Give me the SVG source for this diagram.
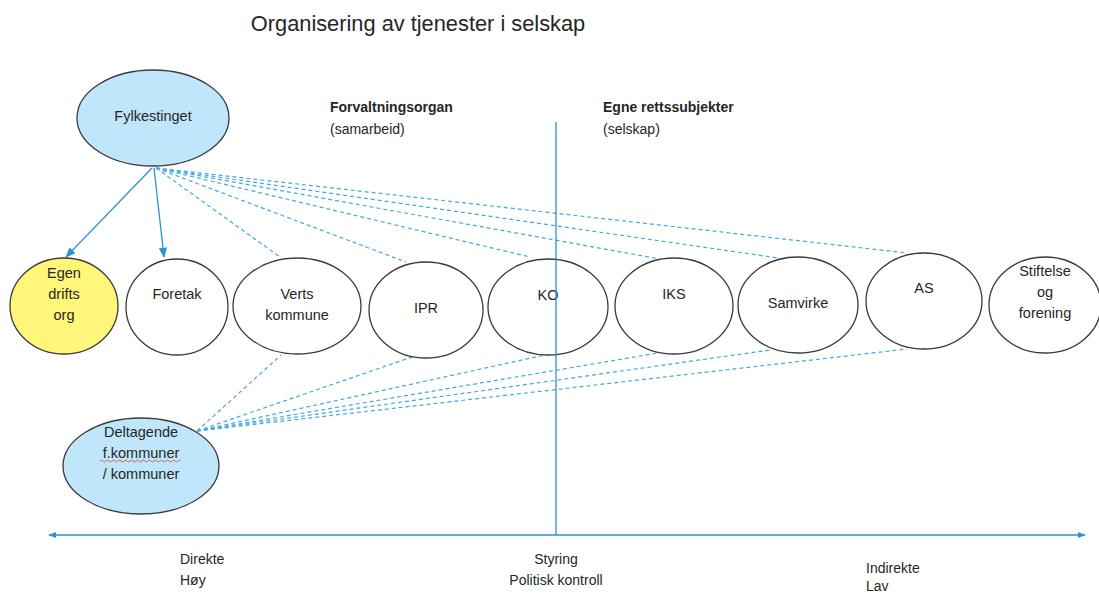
<svg xmlns="http://www.w3.org/2000/svg" width="1099" height="594" viewBox="0 0 1099 594">
<style>
text{font-family:"Liberation Sans",Arial,sans-serif;fill:#262626;}
.t{font-size:14.5px;text-anchor:middle;}
.h{font-size:14px;}
.b{font-weight:bold;}
.node{stroke:#3a3a3a;stroke-width:1.3;fill:#fff;}
.blue{fill:#bfe6fa;}
.yel{fill:#fff67a;}
.dash{stroke:#45a8df;stroke-width:1.2;stroke-dasharray:4 3;fill:none;}
.solid{stroke:#2a93d5;stroke-width:1.3;fill:none;}
.axis{stroke:#2a93d5;stroke-width:1.3;fill:none;}
</style>
<defs>
<marker id="arr" viewBox="0 0 10 10" refX="9" refY="5" markerWidth="8" markerHeight="8" orient="auto">
<path d="M0,1 L10,5 L0,9 z" fill="#2a93d5"/>
</marker>
<marker id="ax" viewBox="0 0 10 10" refX="9" refY="5" markerWidth="6" markerHeight="6" orient="auto-start-reverse">
<path d="M0,1 L10,5 L0,9 z" fill="#2a93d5"/>
</marker>
</defs>
<rect width="1099" height="594" fill="#fff"/>
<text x="418" y="31" style="font-size:21.8px;text-anchor:middle">Organisering av tjenester i selskap</text>
<text x="330" y="112" class="h b">Forvaltningsorgan</text>
<text x="330" y="134" class="h">(samarbeid)</text>
<text x="603" y="112" class="h b">Egne rettssubjekter</text>
<text x="603" y="134" class="h">(selskap)</text>

<g id="connectors">
<line class="solid" x1="152" y1="168" x2="66" y2="257" marker-end="url(#arr)"/>
<line class="solid" x1="154" y1="168" x2="164" y2="257" marker-end="url(#arr)"/>
<line class="dash" x1="156" y1="168" x2="280" y2="257"/>
<line class="dash" x1="156" y1="168" x2="406" y2="262"/>
<line class="dash" x1="156" y1="168" x2="530" y2="257"/>
<line class="dash" x1="156" y1="168" x2="660" y2="259"/>
<line class="dash" x1="156" y1="168" x2="778" y2="258"/>
<line class="dash" x1="156" y1="168" x2="907" y2="253"/>
<line class="dash" x1="197" y1="431" x2="281" y2="355"/>
<line class="dash" x1="197" y1="431" x2="415" y2="356"/>
<line class="dash" x1="197" y1="431" x2="545" y2="355"/>
<line class="dash" x1="197" y1="431" x2="658" y2="353"/>
<line class="dash" x1="197" y1="431" x2="770" y2="350"/>
<line class="dash" x1="197" y1="431" x2="907" y2="349"/>
</g>

<g id="fylkestinget"><ellipse class="node blue" cx="153" cy="118" rx="76" ry="48"/><text class="t" x="153" y="121">Fylkestinget</text></g>
<g id="egen"><ellipse class="node yel" cx="64" cy="306" rx="54" ry="48"/><text class="t" x="64" y="278">Egen</text><text class="t" x="64" y="299">drifts</text><text class="t" x="64" y="320">org</text></g>
<g id="foretak"><ellipse class="node" cx="177" cy="307" rx="51" ry="48"/><text class="t" x="177" y="299">Foretak</text></g>
<g id="verts"><ellipse class="node" cx="297" cy="306" rx="64" ry="48"/><text class="t" x="297" y="299">Verts</text><text class="t" x="297" y="320">kommune</text></g>
<g id="ipr"><ellipse class="node" cx="426" cy="310" rx="57" ry="48"/><text class="t" x="426" y="313">IPR</text></g>
<g id="ko"><ellipse class="node" cx="548" cy="307" rx="60" ry="48"/><text class="t" x="548" y="300">KO</text></g>
<g id="iks"><ellipse class="node" cx="674" cy="306" rx="59" ry="48"/><text class="t" x="674" y="299">IKS</text></g>
<g id="samvirke"><ellipse class="node" cx="798" cy="305" rx="60" ry="48"/><text class="t" x="798" y="308">Samvirke</text></g>
<g id="as"><ellipse class="node" cx="924" cy="301" rx="58" ry="48"/><text class="t" x="924" y="293">AS</text></g>
<g id="stiftelse"><ellipse class="node" cx="1045" cy="305" rx="56" ry="48"/><text class="t" x="1045" y="276">Stiftelse</text><text class="t" x="1045" y="297">og</text><text class="t" x="1045" y="318">forening</text></g>
<g id="deltagende"><ellipse class="node blue" cx="141" cy="466" rx="78" ry="48"/><text class="t" x="141" y="437">Deltagende</text><text class="t" x="141" y="458">f.kommuner</text><text class="t" x="141" y="479">/ kommuner</text>
<path d="M100,461 q1.5,-2 3,0 t3,0 t3,0 t3,0 t3,0 t3,0 t3,0 t3,0 t3,0 t3,0 t3,0 t3,0 t3,0 t3,0 t3,0 t3,0 t3,0 t3,0 t3,0 t3,0 t3,0 t3,0 t3,0 t3,0 t3,0 t3,0 t3,0" fill="none" stroke="#e04040" stroke-width="0.8"/></g>

<g id="axis">
<line class="axis" x1="556" y1="122" x2="556" y2="535"/>
<line class="axis" x1="49" y1="535" x2="1085" y2="535" marker-start="url(#ax)" marker-end="url(#ax)"/>
</g>
<text x="180" y="564" class="h">Direkte</text>
<text x="180" y="585" class="h">Høy</text>
<text x="556" y="564" class="h" text-anchor="middle">Styring</text>
<text x="556" y="585" class="h" text-anchor="middle">Politisk kontroll</text>
<text x="866" y="573" class="h">Indirekte</text>
<text x="866" y="591" class="h">Lav</text>
</svg>
